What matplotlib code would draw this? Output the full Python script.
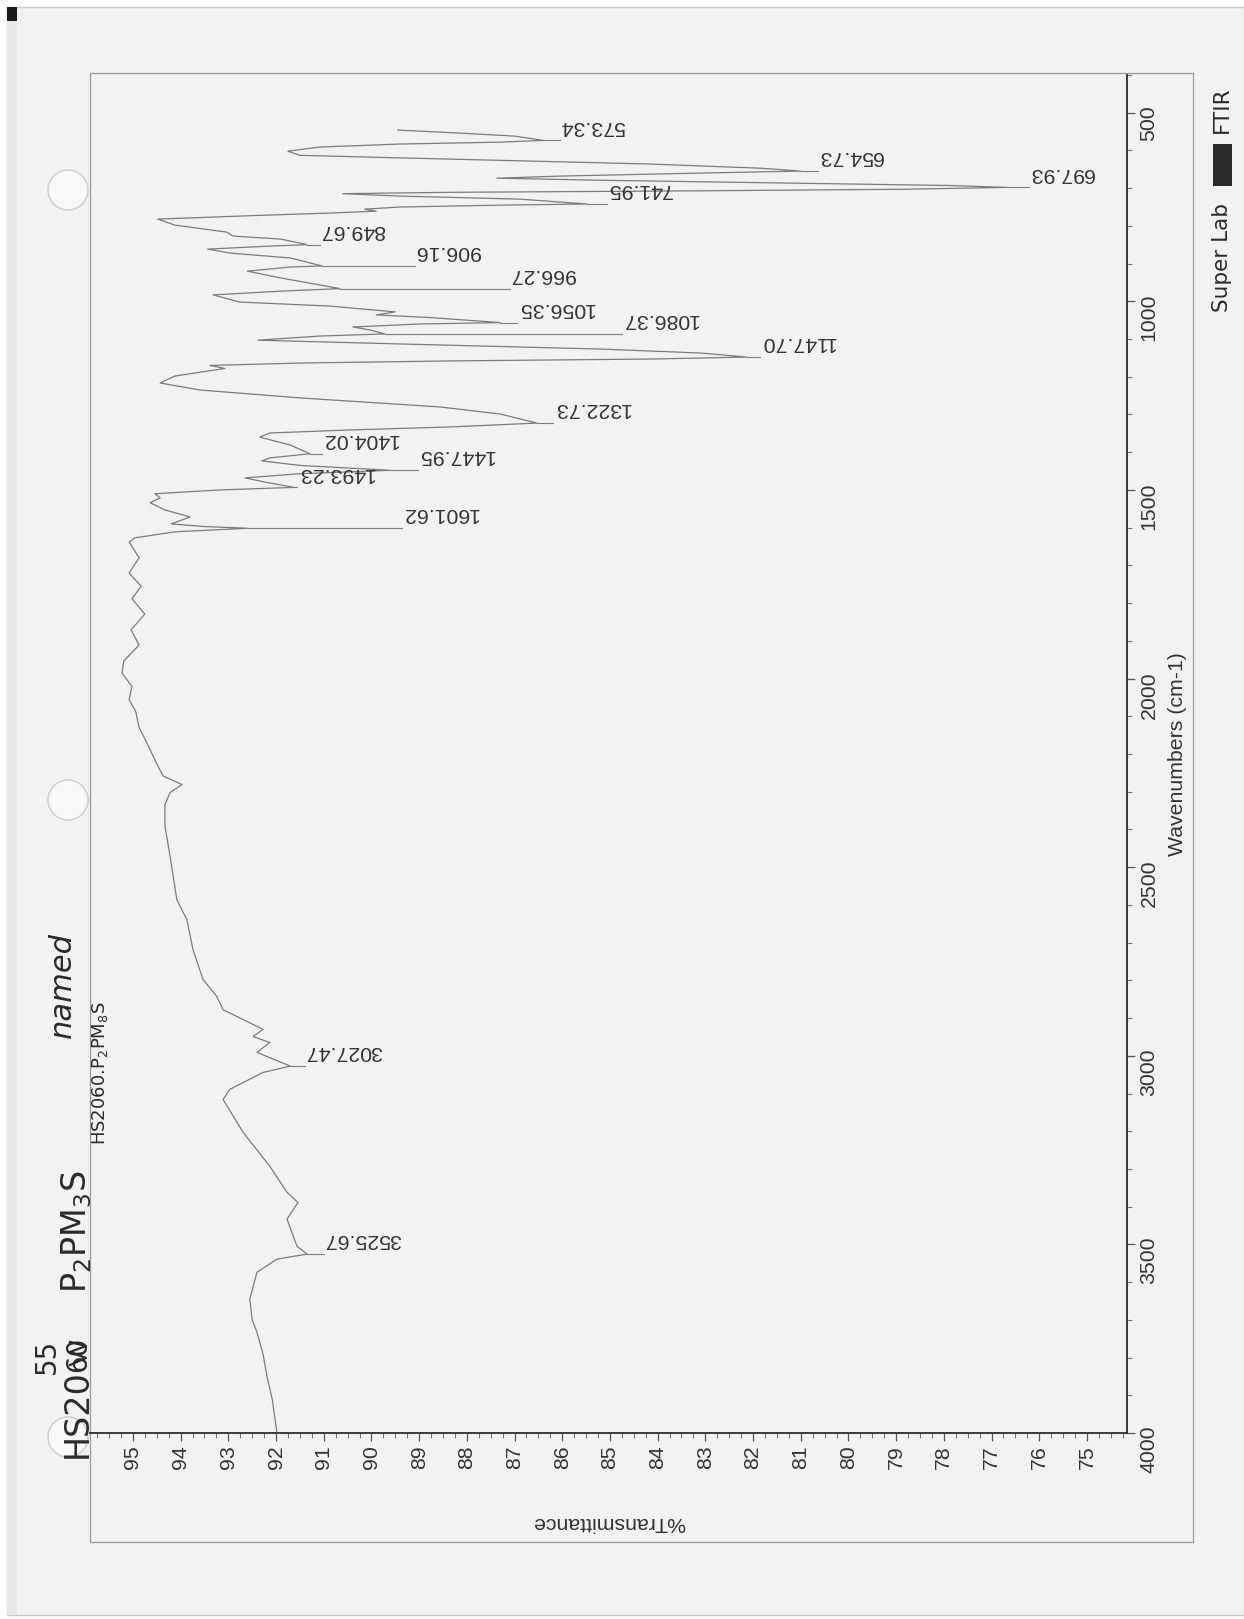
import numpy as np
import matplotlib.pyplot as plt
from matplotlib.patches import Circle, Rectangle

plt.rcParams['font.family'] = ['Liberation Sans', 'DejaVu Sans']

# spectrum: wavenumber (cm-1) and %T
wavenumber = [
    546, 554, 562, 573.34, 578, 583, 591, 602, 613, 623, 636, 647, 654.73,
    660, 668, 673.5, 679, 687, 693, 697.93, 703, 707, 711, 714.6, 721, 729,
    741.95, 745, 750, 755.6, 761, 766, 773, 782, 798, 816.5, 827, 835, 849.67,
    853.6, 861.6, 872, 885, 906.16, 909, 920, 938, 966.27, 973, 983, 994, 1002,
    1012.6, 1028, 1036, 1043, 1056.35, 1060, 1068, 1076, 1086.37, 1092, 1103,
    1113, 1126.5, 1137, 1147.70, 1153, 1158, 1163.6, 1170, 1178, 1198, 1216.5,
    1235, 1256, 1280, 1298.7, 1322.73, 1333, 1341, 1349, 1360, 1381, 1404.02,
    1415, 1423, 1435, 1447.95, 1457, 1468, 1480, 1493.23, 1500, 1510, 1521,
    1534, 1553, 1571.6, 1590, 1597, 1601.62, 1611, 1627, 1638,
    1680, 1720, 1755, 1789, 1829, 1871, 1911, 1953, 1985, 2021, 2056, 2088,
    2130, 2170, 2226, 2258, 2281, 2302, 2334, 2390, 2472, 2586, 2639, 2719,
    2798, 2843, 2878, 2930, 2949, 2965, 2991, 3027.47, 3044, 3089, 3116, 3203,
    3293, 3362, 3389, 3433, 3505, 3525.67, 3539, 3574, 3645, 3700, 3733, 3792,
    3850, 3910, 4000,
]
transmittance = [
    89.45, 88.15, 87.0, 86.4, 87.3, 89.4, 91.08, 91.75, 91.5, 88.35, 84.16, 81.86, 81.0,
    83.1, 86.05, 87.37, 85.2, 81.0, 77.87, 76.68, 78.9, 83.1, 88.35, 90.6, 89.4, 86.9,
    85.48, 87.3, 89.4, 90.14, 89.9, 90.87, 92.55, 94.48, 94.12, 93.03, 92.9, 91.9, 91.35,
    92.13, 93.43, 92.97, 91.7, 91.04, 91.7, 92.6, 91.9, 90.66, 91.9, 93.32, 93.0, 92.76,
    90.87, 89.5, 89.9, 88.77, 87.3, 88.98, 90.39, 90.03, 89.72, 91.08, 92.38,
    89.4, 85.2, 83.1, 82.13, 84.16, 88.35, 91.5, 93.39, 93.07, 94.12, 94.43,
    93.6, 91.5, 88.56, 87.3, 86.53, 88.35, 90.45, 92.13, 92.34, 91.7, 91.29,
    92.13, 92.3, 91.5, 89.6, 91.5, 92.65, 92.2, 91.62, 93.18, 94.54, 94.43,
    94.64, 94.33, 93.8, 94.2, 93.5, 92.59, 94.12, 94.96, 95.08,
    94.87, 95.08, 94.83, 95.02, 94.75, 95.04, 94.87, 95.19, 95.23, 95.02, 95.08, 94.94,
    94.87, 94.71, 94.5, 94.37, 93.97, 94.22, 94.33, 94.33, 94.22, 94.08, 93.87, 93.74,
    93.53, 93.24, 93.11, 92.27, 92.48, 92.13, 92.4, 91.7, 92.27, 92.97, 93.11, 92.69,
    92.13, 91.77, 91.54, 91.77, 91.56, 91.35, 91.98, 92.4, 92.55, 92.5, 92.4, 92.27,
    92.19, 92.08, 91.98,
]

# labelled peaks
peak_wn = [573.34, 654.73, 697.93, 741.95, 849.67, 906.16, 966.27, 1056.35,
           1086.37, 1147.70, 1322.73, 1404.02, 1447.95, 1493.23, 1601.62,
           3027.47, 3525.67]
# where each leader line ends (in %T)
label_at = [86.05, 80.64, 76.22, 85.06, 91.08, 89.09, 87.1, 86.95,
            84.75, 81.86, 86.19, 91.04, 89.03, 91.56, 89.36,
            91.39, 91.0]

W, H = 1244, 1619
fig = plt.figure(figsize=(W / 100, H / 100), dpi=100)
fig.patch.set_facecolor('white')

# page layer in pixel coordinates
pg = fig.add_axes([0, 0, 1, 1], zorder=0)
pg.set_xlim(0, W)
pg.set_ylim(H, 0)
pg.axis('off')
pg.add_patch(Rectangle((7, 7), W - 7, 1608, facecolor='#f2f2f2', edgecolor='#c8c8c8', lw=1))
pg.add_patch(Rectangle((7, 7), 10, 14, facecolor='#1a1a1a', edgecolor='none'))
pg.add_patch(Rectangle((7, 21), 10, 1594, facecolor='#e8e8e8', edgecolor='none'))
for cy in (190, 800, 1437):
    pg.add_patch(Circle((68, cy), 20, facecolor='#f8f8f8', edgecolor='#d2d2d2', lw=1.2))
pg.add_patch(Rectangle((90, 73), 1193 - 90, 1542 - 73, facecolor='none', edgecolor='#9a9a9a', lw=0.9))

# handwritten notes
hand = dict(rotation=90, ha='center', va='center', color='#2a2a2a', family='DejaVu Sans')
pg.text(77, 1414, 'HS20', fontsize=24, **hand)
pg.text(47, 1356, '55', fontsize=20, **hand)
pg.text(78, 1354, '60', fontsize=20, **hand)
pg.plot([70, 86, 70, 86, 70], [1342, 1346, 1352, 1358, 1365], color='#2a2a2a', lw=1.6)
pg.text(77, 1232, r'P$_2$PM$_3$S', fontsize=24, **hand)
pg.text(62, 985, 'named', fontsize=22, style='italic', **hand)
pg.text(100, 1073, r'HS2060.P$_2$PM$_8$S', fontsize=13, **hand)
pg.text(1222, 258, 'Super Lab', fontsize=15.5, **hand)
pg.text(1222, 110, 'FTIR', fontsize=15.5, **hand)
pg.add_patch(Rectangle((1213, 144), 19, 42, facecolor='#2a2a2a', edgecolor='none'))

# spectrum, drawn with wavenumber running up the page
ax = fig.add_axes([90 / W, 1 - 1433 / H, (1127 - 90) / W, (1433 - 75) / H], zorder=2)
ax.set_facecolor('none')
ax.plot(transmittance, wavenumber, color='#7c7c7c', lw=0.9)

for wn, lx in zip(peak_wn, label_at):
    tip = np.interp(wn, wavenumber, transmittance)
    ax.plot([tip, lx], [wn, wn], color='#7c7c7c', lw=0.8)
    ax.annotate(f'{wn:.2f}', (lx, wn), xytext=(0, 3.5), textcoords='offset points',
                rotation=180, ha='left', va='bottom', fontsize=15.3, color='#333333')

ax.set_xlim(95.9, 74.16)
ax.set_ylim(4000, 400)

for s in ('left', 'top'):
    ax.spines[s].set_visible(False)
for s in ('bottom', 'right'):
    ax.spines[s].set_color('#2b2b2b')
    ax.spines[s].set_linewidth(1.3)

ax.set_xticks(np.arange(75, 96, 1))
ax.set_xticks(np.arange(74.25, 96, 0.25), minor=True)
ax.set_yticks(np.arange(500, 4001, 500))
ax.set_yticks(np.arange(400, 4001, 100), minor=True)
ax.yaxis.tick_right()
ax.tick_params(axis='both', which='major', direction='out', length=6, width=0.9,
               color='#555555', labelsize=15.3, labelcolor='#333333', labelrotation=90, pad=3)
ax.tick_params(axis='both', which='minor', direction='out', length=3.5, width=0.8, color='#777777')

ax.set_xlabel('%Transmittance', rotation=180, fontsize=15.3, color='#333333', va='center', ha='center')
ax.xaxis.set_label_coords(0.5, (1433 - 1522) / (1433 - 75))
ax.yaxis.set_label_position('right')
ax.set_ylabel('Wavenumbers (cm-1)', rotation=90, fontsize=15.3, color='#333333', va='center', ha='center')
ax.yaxis.set_label_coords((1177 - 90) / (1127 - 90), 0.5)

fig.savefig('out.png', dpi=100, facecolor=fig.get_facecolor())
